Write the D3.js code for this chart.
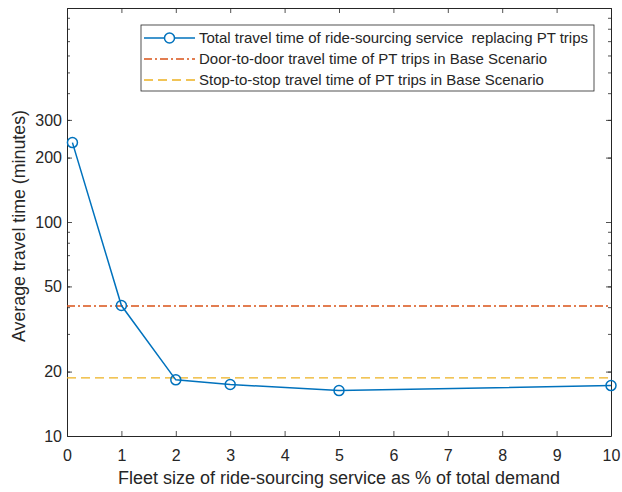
<!DOCTYPE html>
<html lang="en">
<head>
  <meta charset="UTF-8" />
  <title>Travel time vs fleet size</title>
  <script src="https://d3js.org/d3.v7.min.js"></script>
  <style>
    body { margin: 0; background: #fff; }
    svg { display: block; font-family: "Liberation Sans", Arial, sans-serif; }
    .domain, .tick line { stroke: #262626; }
  </style>
</head>
<body>
  <svg id="chart" width="622" height="492"></svg>
  <script>
    // fleet size (% of demand) and total travel time (minutes)
    const fleetSize = [0.1, 1, 2, 3, 5, 10];
    const travelTime = [235, 40.7, 18.3, 17.4, 16.3, 17.2];
    const doorToDoor = 40.5;
    const stopToStop = 18.7;
    const xTicks = [0, 1, 2, 3, 4, 5, 6, 7, 8, 9, 10];
    const yTicks = [10, 20, 50, 100, 200, 300];
    const legendLabels = [
      "Total travel time of ride-sourcing service  replacing PT trips",
      "Door-to-door travel time of PT trips in Base Scenario",
      "Stop-to-stop travel time of PT trips in Base Scenario"
    ];

    const svg = d3.select("#chart");
    const plotL = 67, plotR = 611, plotT = 8, plotB = 436;
    const axisColor = "#262626";

    const x = d3.scaleLinear().domain([0, 10]).range([plotL, plotR]);
    const y = d3.scaleLog().domain([10, 1000]).range([plotB, plotT]);

    // minor ticks for log axis
    const minor = [];
    [10, 100].forEach(d => { for (let k = 2; k <= 9; k++) minor.push(d * k); });

    // axes (ticks inward, box mirrored)
    svg.append("g").attr("transform", `translate(0,${plotB})`)
      .call(d3.axisBottom(x).tickValues(xTicks).tickSize(-5).tickPadding(14).tickSizeOuter(0));
    svg.append("g").attr("transform", `translate(0,${plotT})`)
      .call(d3.axisTop(x).tickValues(xTicks).tickSize(-5).tickSizeOuter(0).tickFormat(""));
    svg.append("g").attr("transform", `translate(${plotL},0)`)
      .call(d3.axisLeft(y).tickValues(yTicks).tickSize(-5).tickPadding(5).tickSizeOuter(0).tickFormat(d3.format("d")));
    svg.append("g").attr("transform", `translate(${plotR},0)`)
      .call(d3.axisRight(y).tickValues(yTicks).tickSize(-5).tickSizeOuter(0).tickFormat(""));
    svg.append("g").attr("transform", `translate(${plotL},0)`)
      .call(d3.axisLeft(y).tickValues(minor).tickSize(-3).tickSizeOuter(0).tickFormat(""))
      .call(g => g.select(".domain").remove());
    svg.append("g").attr("transform", `translate(${plotR},0)`)
      .call(d3.axisRight(y).tickValues(minor).tickSize(-3).tickSizeOuter(0).tickFormat(""))
      .call(g => g.select(".domain").remove());
    svg.selectAll(".tick line").attr("stroke-width", 0.8);
    svg.selectAll(".tick text")
      .attr("font-size", 16).attr("fill", axisColor)
      .attr("font-family", "Liberation Sans, Arial, sans-serif");

    // reference lines
    svg.append("line")
      .attr("x1", x(0)).attr("x2", x(10)).attr("y1", y(doorToDoor)).attr("y2", y(doorToDoor))
      .attr("stroke", "#D95319").attr("stroke-width", 1.3).attr("stroke-dasharray", "8,3,2,3");
    svg.append("line")
      .attr("x1", x(0)).attr("x2", x(10)).attr("y1", y(stopToStop)).attr("y2", y(stopToStop))
      .attr("stroke", "#EDB120").attr("stroke-width", 1.3).attr("stroke-dasharray", "9,5");

    // main series
    const pts = fleetSize.map((f, i) => [f, travelTime[i]]);
    svg.append("path").datum(pts)
      .attr("fill", "none").attr("stroke", "#0072BD").attr("stroke-width", 1.5)
      .attr("d", d3.line().x(d => x(d[0])).y(d => y(d[1])));
    svg.selectAll(".pt").data(pts).enter().append("circle")
      .attr("class", "pt")
      .attr("cx", d => x(d[0])).attr("cy", d => y(d[1])).attr("r", 5)
      .attr("fill", "none").attr("stroke", "#0072BD").attr("stroke-width", 1.5);

    // axis labels
    svg.append("text").attr("x", (plotL + plotR) / 2).attr("y", 484)
      .attr("text-anchor", "middle").attr("font-size", 18).attr("fill", axisColor)
      .text("Fleet size of ride-sourcing service as % of total demand");
    svg.append("text").attr("transform", `translate(25,${(plotT + plotB) / 2 + 4}) rotate(-90)`)
      .attr("text-anchor", "middle").attr("font-size", 17.8).attr("fill", axisColor)
      .text("Average travel time (minutes)");

    // legend
    const lg = svg.append("g");
    lg.append("rect").attr("x", 141).attr("y", 25).attr("width", 453).attr("height", 66)
      .attr("fill", "#fff").attr("stroke", axisColor).attr("stroke-width", 0.8);
    const rowY = [38, 59, 80];
    const styles = [
      { c: "#0072BD", dash: null },
      { c: "#D95319", dash: "8,3,2,3" },
      { c: "#EDB120", dash: "9,5" }
    ];
    legendLabels.forEach((t, i) => {
      lg.append("line").attr("x1", 144).attr("x2", 195).attr("y1", rowY[i]).attr("y2", rowY[i])
        .attr("stroke", styles[i].c).attr("stroke-width", 1.5)
        .attr("stroke-dasharray", styles[i].dash);
      if (i === 0) {
        lg.append("circle").attr("cx", 169.5).attr("cy", rowY[i]).attr("r", 5)
          .attr("fill", "#fff").attr("stroke", styles[i].c).attr("stroke-width", 1.5);
      }
      lg.append("text").attr("x", 199).attr("y", rowY[i]).attr("dy", "0.35em")
        .attr("font-size", 15).attr("fill", axisColor)
        .style("white-space", "pre").text(t);
    });
  </script>
</body>
</html>
